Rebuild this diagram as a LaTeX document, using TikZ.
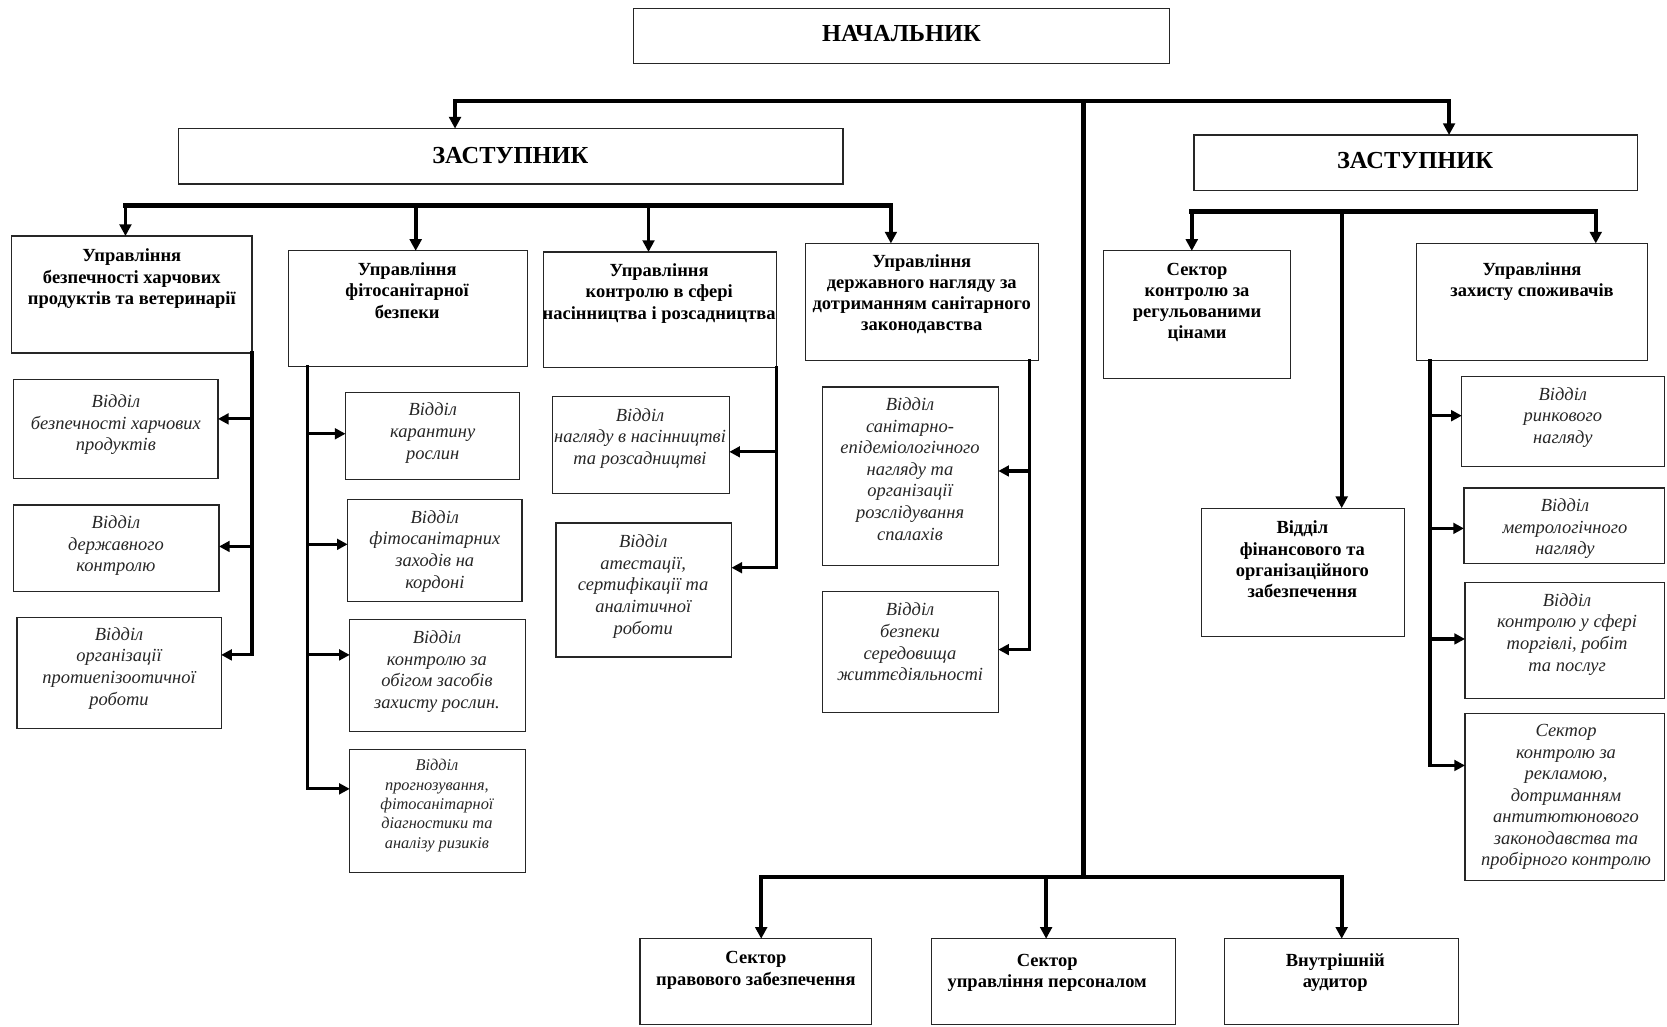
\documentclass[tikz,border=0pt]{standalone}
\usepackage{fontspec}
\setmainfont{Liberation Serif}
\usetikzlibrary{arrows.meta,calc}
\tikzset{
  box/.style={draw=black!85, line width=1.1pt, inner sep=0pt, outer sep=0pt, anchor=north west},
  bt/.style={font=\fontsize{17.4}{20}\selectfont\bfseries, align=center, inner sep=0pt, anchor=north},
  it/.style={font=\fontsize{17.4}{20.3}\selectfont\itshape, text=black!85, align=center, inner sep=0pt, anchor=north},
  its/.style={font=\fontsize{15.4}{18.2}\selectfont\itshape, text=black!85, align=center, inner sep=0pt, anchor=north},
  ht/.style={font=\fontsize{23}{26}\selectfont\bfseries, inner sep=0pt},
  bar/.style={line width=4.5pt, line cap=rect},
  vln/.style={line width=3pt, line cap=rect},
  darr/.style={line width=3.5pt, -{Triangle[length=11pt,width=11pt]}},
  harr/.style={line width=3pt, -{Triangle[length=10pt,width=10pt]}},
}
\newcommand{\ob}[5]{\node[box, minimum width={#4pt-#2pt}, minimum height={#5pt-#3pt}] (#1) at (#2,#3) {};}
\begin{document}
\begin{tikzpicture}[x=1pt,y=-1pt]
\useasboundingbox (0,0) rectangle (1568,966);
% top level
\ob{head}{596}{8}{1100}{60}
\node[ht] (headt) at (848,32) {НАЧАЛЬНИК};
\ob{zl}{168}{121}{793}{173}
\node[ht] (zlt) at (480,146) {ЗАСТУПНИК};
\ob{zr}{1123}{127}{1540}{179}
\node[ht] (zrt) at (1331,151) {ЗАСТУПНИК};
% main bar
\coordinate (m1) at (428,95);
\coordinate (m2) at (1363,95);
\coordinate (mc) at (1019,95);
\coordinate (mb) at (1019,825);
\draw[bar] (m1) -- (m2);
\draw[darr] (m1) -- (m1 |- zl.north);
\draw[darr] (m2) -- (m2 |- zr.north);
\draw[bar] (mc) -- (mb);
% bottom
\ob{c1}{602}{883}{820}{964}
\ob{c2}{876}{883}{1106}{964}
\ob{c3}{1152}{883}{1372}{964}
\node[bt] (c1t) at (711,895) {Сектор\\правового забезпечення};
\node[bt] (c2t) at (985,897) {Сектор\\управління персоналом};
\node[bt] (c3t) at (1256,897) {Внутрішній\\аудитор};
\coordinate (bb1) at (716,825);
\coordinate (bb2) at (984,825);
\coordinate (bb3) at (1262,825);
\draw[bar] (bb1) -- (bb3);
\draw[darr] (bb1) -- (bb1 |- c1.north);
\draw[darr] (bb2) -- (bb2 |- c2.north);
\draw[darr] (bb3) -- (bb3 |- c3.north);
% left level 2
\ob{u1}{11}{222}{237}{332}
\ob{u2}{271}{236}{496}{345}
\ob{u3}{511}{237}{730}{346}
\ob{u4}{758}{229}{977}{339}
\node[bt] (u1t) at (124,234) {Управління\\безпечності харчових\\продуктів та ветеринарії};
\node[bt] (u2t) at (383,247) {Управління\\фітосанітарної\\безпеки};
\node[bt] (u3t) at (620,248) {Управління\\контролю в сфері\\насінництва і розсадництва};
\node[bt] (u4t) at (867,239) {Управління\\державного нагляду за\\дотриманням санітарного\\законодавства};
\coordinate (l1) at (118,193);
\coordinate (l2) at (391,193);
\coordinate (l3) at (610,193);
\coordinate (l4) at (838,193);
\draw[bar] (l1) -- (l4);
\draw[darr] (l1) -- (l1 |- u1.north);
\draw[darr] (l2) -- (l2 |- u2.north);
\draw[darr] (l3) -- (l3 |- u3.north);
\draw[darr] (l4) -- (l4 |- u4.north);
% right level 2
\ob{r1}{1038}{236}{1214}{356}
\ob{rf}{1130}{478}{1321}{599}
\ob{r2}{1332}{229}{1550}{339}
\node[bt] (r1t) at (1126,247) {Сектор\\контролю за\\регульованими\\цінами};
\node[bt] (rft) at (1225,490) {Відділ\\фінансового та\\організаційного\\забезпечення};
\node[bt] (r2t) at (1441,247) {Управління\\захисту споживачів};
\coordinate (q1) at (1121,199);
\coordinate (q2) at (1262,199);
\coordinate (q3) at (1501,199);
\draw[bar] (q1) -- (q3);
\draw[darr] (q1) -- (q1 |- r1.north);
\draw[darr] (q2) -- (q2 |- rf.north);
\draw[darr] (q3) -- (q3 |- r2.north);
% group 1
\ob{s1a}{13}{357}{205}{450}
\ob{s1b}{13}{475}{206}{556}
\ob{s1c}{16}{581}{208}{685}
\node[it] (s1at) at (109,371) {Відділ\\безпечності харчових\\продуктів};
\node[it] (s1bt) at (109,485) {Відділ\\державного\\контролю};
\node[it] (s1ct) at (112,590) {Відділ\\організації\\протиепізоотичної\\роботи};
\coordinate (p1a) at (237,394);
\coordinate (p1b) at (237,514);
\coordinate (p1c) at (237,616);
\draw[vln] (u1.south east) -- (p1c);
\draw[harr] (p1a) -- (p1a -| s1a.east);
\draw[harr] (p1b) -- (p1b -| s1b.east);
\draw[harr] (p1c) -- (p1c -| s1c.east);
% group 2
\ob{s2a}{325}{369}{489}{451}
\ob{s2b}{327}{470}{491}{566}
\ob{s2c}{329}{583}{494}{688}
\ob{s2d}{329}{705}{494}{821}
\node[it] (s2at) at (407,379) {Відділ\\карантину\\рослин};
\node[it] (s2bt) at (409,480) {Відділ\\фітосанітарних\\заходів на\\кордоні};
\node[it] (s2ct) at (411,593) {Відділ\\контролю за\\обігом засобів\\захисту рослин.};
\node[its] (s2dt) at (411,714) {Відділ\\прогнозування,\\фітосанітарної\\діагностики та\\аналізу ризиків};
\coordinate (p2a) at (289,408);
\coordinate (p2b) at (289,512);
\coordinate (p2c) at (289,616);
\coordinate (p2d) at (289,742);
\draw[vln] (p2d |- u2.south) -- (p2d);
\draw[harr] (p2a) -- (p2a -| s2a.west);
\draw[harr] (p2b) -- (p2b -| s2b.west);
\draw[harr] (p2c) -- (p2c -| s2c.west);
\draw[harr] (p2d) -- (p2d -| s2d.west);
% group 3
\ob{s3a}{520}{373}{686}{464}
\ob{s3b}{523}{492}{688}{618}
\node[it] (s3at) at (602,384) {Відділ\\нагляду в насінництві\\та розсадництві};
\node[it] (s3bt) at (605,503) {Відділ\\атестації,\\сертифікації та\\аналітичної\\роботи};
\coordinate (p3a) at (730,425);
\coordinate (p3b) at (730,534);
\draw[vln] (u3.south east) -- (p3b);
\draw[harr] (p3a) -- (p3a -| s3a.east);
\draw[harr] (p3b) -- (p3b -| s3b.east);
% group 4
\ob{s4a}{774}{364}{939}{532}
\ob{s4b}{774}{556}{939}{670}
\node[it] (s4at) at (856,374) {Відділ\\санітарно-\\епідеміологічного\\нагляду та\\організації\\розслідування\\спалахів};
\node[it] (s4bt) at (856,567) {Відділ\\безпеки\\середовища\\життєдіяльності};
\coordinate (p4a) at (968.5,443);
\coordinate (p4b) at (968.5,611);
\draw[vln] (p4b |- u4.south) -- (p4b);
\draw[harr] (p4a) -- (p4a -| s4a.east);
\draw[harr] (p4b) -- (p4b -| s4b.east);
% right group
\ob{sr1}{1375}{354}{1566}{439}
\ob{sr2}{1377}{459}{1566}{530}
\ob{sr3}{1378}{548}{1566}{657}
\ob{sr4}{1378}{671}{1566}{828}
\node[it] (sr1t) at (1470,364) {Відділ\\ринкового\\нагляду};
\node[it] (sr2t) at (1472,469) {Відділ\\метрологічного\\нагляду};
\node[it] (sr3t) at (1474,558) {Відділ\\контролю у сфері\\торгівлі, робіт\\та послуг};
\node[it] (sr4t) at (1473,681) {Сектор\\контролю за\\рекламою,\\дотриманням\\антитютюнового\\законодавства та\\пробірного контролю};
\coordinate (pr1) at (1345,391);
\coordinate (pr2) at (1345,497);
\coordinate (pr3) at (1345,601);
\coordinate (pr4) at (1345,720);
\draw[vln] (pr4 |- r2.south) -- (pr4);
\draw[harr] (pr1) -- (pr1 -| sr1.west);
\draw[harr] (pr2) -- (pr2 -| sr2.west);
\draw[harr] (pr3) -- (pr3 -| sr3.west);
\draw[harr] (pr4) -- (pr4 -| sr4.west);
\end{tikzpicture}
\end{document}
